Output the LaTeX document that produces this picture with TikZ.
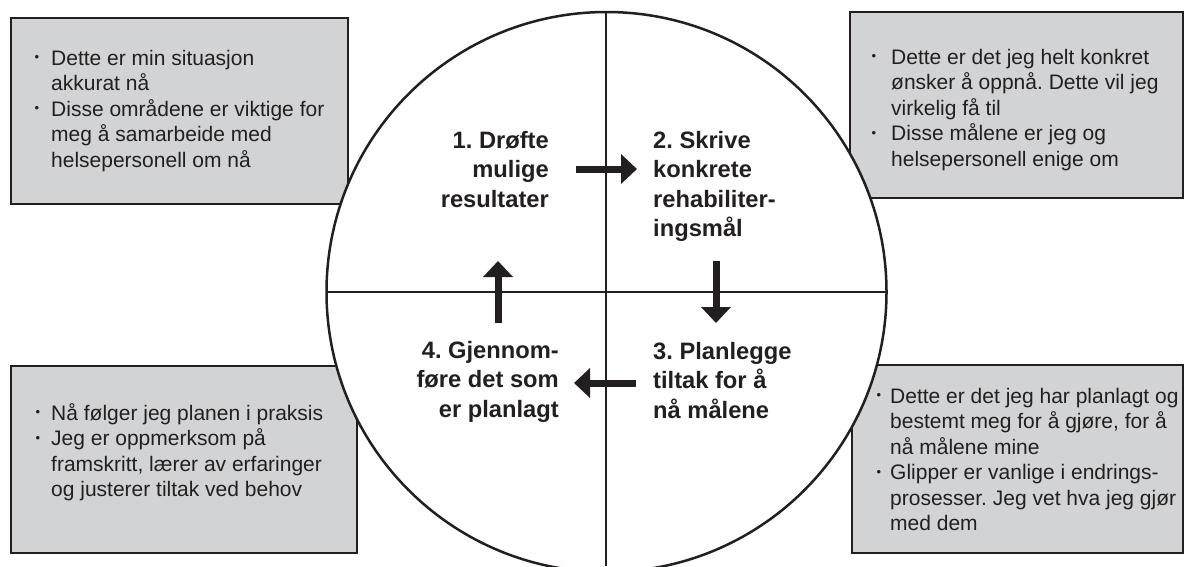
\documentclass[tikz,border=0pt]{standalone}
\usepackage{fontspec}
\setmainfont{Liberation Sans}
\usetikzlibrary{arrows.meta}
\definecolor{ink}{HTML}{231F20}
\definecolor{boxgray}{HTML}{D1D3D4}
\newcommand{\smallbul}{{\fontsize{13}{13}\selectfont\raisebox{3.5pt}{•}}}
\newcommand{\bi}[1]{\llap{\smallbul\hspace{#1}}}
\frenchspacing
\begin{document}
\begin{tikzpicture}[x=1pt,y=-1pt,
  infobox/.style={fill=boxgray, draw=ink, line width=2pt},
  boxtext/.style={inner sep=0pt, anchor=base west, text=ink, font=\fontsize{21}{25.5}\selectfont},
  steplabel/.style={inner sep=0pt, text=ink, font=\bfseries\fontsize{23.7}{29.5}\selectfont},
  flow/.style={line width=7pt, draw=ink, -{Triangle[length=16pt,width=29pt]}},
  divider/.style={draw=ink, line width=2pt}
]
\useasboundingbox (0,0) rectangle (1185,566);

% grey boxes
\path[infobox] (11,18) rectangle (348,204);
\path[infobox] (850,12) rectangle (1183,198);
\path[infobox] (11,366) rectangle (357,553);
\path[infobox] (852,365) rectangle (1183,553);

% circle
\draw[ink, line width=2.5pt, fill=white] (606.5,292) circle[radius=280pt];
\path[divider] (606,12) -- (606,566);
\path[divider] (326,292) -- (887,292);

% box texts
\node[boxtext] (tl) at (51,65) {\begin{tabular}[t]{@{}l@{}}\bi{12pt}Dette er min situasjon\\ akkurat nå\\ \bi{12pt}Disse områdene er viktige for\\ meg å samarbeide med\\ helsepersonell om nå\end{tabular}};
\node[boxtext] (tr) at (891,64) {\begin{tabular}[t]{@{}l@{}}\bi{15pt}Dette er det jeg helt konkret\\ ønsker å oppnå. Dette vil jeg\\ virkelig få til\\ \bi{15pt}Disse målene er jeg og\\ helsepersonell enige om\end{tabular}};
\node[boxtext] (bl) at (51,420) {\begin{tabular}[t]{@{}l@{}}\bi{11pt}Nå følger jeg planen i praksis\\ \bi{11pt}Jeg er oppmerksom på\\ framskritt, lærer av erfaringer\\ og justerer tiltak ved behov\end{tabular}};
\node[boxtext] (br) at (890,403) {\begin{tabular}[t]{@{}l@{}}\bi{9pt}Dette er det jeg har planlagt og\\ bestemt meg for å gjøre, for å\\ nå målene mine\\ \bi{9pt}Glipper er vanlige i endrings-\\ prosesser. Jeg vet hva jeg gjør\\ med dem\end{tabular}};

% step labels
\node[steplabel, anchor=base east] (s1) at (549,148) {\begin{tabular}[t]{@{}r@{}}1. Drøfte\\ mulige\\ resultater\end{tabular}};
\node[steplabel, anchor=base west] (s2) at (653,148) {\begin{tabular}[t]{@{}l@{}}2. Skrive\\ konkrete\\ rehabiliter-\\ ingsmål\end{tabular}};
\node[steplabel, anchor=base west] (s3) at (653,359) {\begin{tabular}[t]{@{}l@{}}3. Planlegge\\ tiltak for å\\ nå målene\end{tabular}};
\node[steplabel, anchor=base east] (s4) at (559,358) {\begin{tabular}[t]{@{}r@{}}4. Gjennom-\\ føre det som\\ er planlagt\end{tabular}};

% arrows
\coordinate (a1s) at (576,169); \coordinate (a1e) at (637,169);
\coordinate (a2s) at (716,261); \coordinate (a2e) at (716,323);
\coordinate (a3s) at (636,383); \coordinate (a3e) at (574,383);
\coordinate (a4s) at (498,323); \coordinate (a4e) at (498,261);
\draw[flow] (a1s) -- (a1e);
\draw[flow] (a2s) -- (a2e);
\draw[flow] (a3s) -- (a3e);
\draw[flow] (a4s) -- (a4e);
\end{tikzpicture}
\end{document}
